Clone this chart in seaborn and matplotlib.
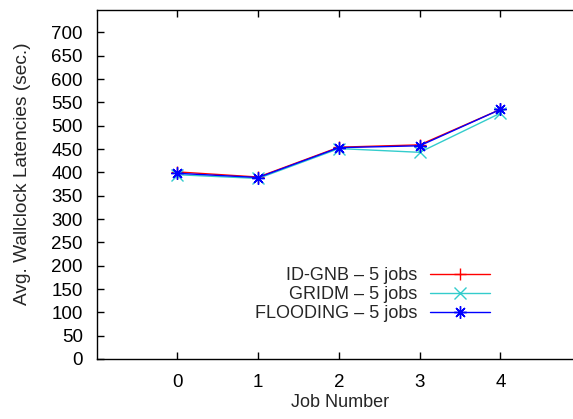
import matplotlib
matplotlib.use("Agg")
import matplotlib.pyplot as plt
import seaborn as sns
import pandas as pd

# Average wallclock latency per job for each scheduling strategy
jobs = [0, 1, 2, 3, 4]
id_gnb = [401, 390, 454, 459, 535]
gridm = [395, 387, 451, 443, 527]
flooding = [398, 389, 453, 457, 535]

series_names = ["ID-GNB \u2013 5 jobs", "GRIDM \u2013 5 jobs", "FLOODING \u2013 5 jobs"]
series_values = [id_gnb, gridm, flooding]
series_colors = ["#ff0000", "#33cccc", "#0000ff"]
series_markers = ["+", "x", (8, 2, 0)]

y_ticks = list(range(0, 701, 50))

sns.set_style("ticks")
plt.rcParams["font.family"] = ["Liberation Sans", "DejaVu Sans"]
plt.rcParams["font.size"] = 13

fig = plt.figure(figsize=(5.73, 4.19), dpi=100)
ax = fig.add_axes([0.1688, 0.1432, 0.8455, 0.834])

for name, vals, col, mk in zip(series_names, series_values, series_colors, series_markers):
    df = pd.DataFrame({"job": jobs, "latency": vals})
    sns.lineplot(data=df, x="job", y="latency", ax=ax, color=col, marker=mk,
                 markersize=9, linewidth=1.0, label=name,
                 markeredgecolor=col, markeredgewidth=1.0)

ax.set_xlim(-1, 5)
ax.set_ylim(0, 749)
ax.set_xticks(jobs)
ax.set_yticks(y_ticks)
ax.tick_params(direction="in", length=5, width=1, top=True, right=True,
               labelsize=13.5, colors="black")
ax.tick_params(axis="y", pad=10)
ax.tick_params(axis="x", pad=11)
for s in ax.spines.values():
    s.set_linewidth(1.0)
    s.set_color("black")

ax.set_xlabel("Job Number", fontsize=13)
ax.set_ylabel("Avg. Wallclock Latencies (sec.)", fontsize=13.8)
ax.xaxis.set_label_coords(0.502, -0.1)
ax.yaxis.set_label_coords(-0.136, 0.529)

ax.legend(loc="upper right", bbox_to_anchor=(490 / 573, 1 - 267 / 419),
          bbox_transform=fig.transFigure, frameon=False, markerfirst=False,
          handlelength=3.3, handletextpad=0.75, labelspacing=0.12,
          borderpad=0, borderaxespad=0, fontsize=13)

fig.savefig("out.png", dpi=100)
